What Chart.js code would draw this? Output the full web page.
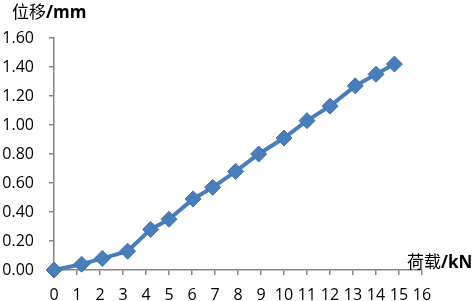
<!DOCTYPE html>
<html>
<head>
<meta charset="utf-8">
<script src="https://cdn.jsdelivr.net/npm/chart.js@4/dist/chart.umd.min.js"></script>
<style>
  html, body { margin: 0; padding: 0; background: #fff; }
  #wrap { width: 472px; height: 301px; }
</style>
</head>
<body>
<div id="wrap"><canvas id="myChart"></canvas></div>
<script>
// load (kN) vs displacement (mm)
const loads = [0, 1.2, 2.1, 3.2, 4.2, 5.0, 6.05, 6.9, 7.9, 8.9, 10.0, 11.0, 12.0, 13.1, 14.0, 14.8];
const disp = [0.00, 0.04, 0.08, 0.13, 0.28, 0.35, 0.49, 0.57, 0.68, 0.80, 0.91, 1.03, 1.13, 1.27, 1.35, 1.42];
const yTitle = ['位移', '/mm'];
const xTitle = ['荷载', '/kN'];

const BLUE = '#4A7EBB';
const AXIS = '#868686';
const FONT = "'Open Sans', 'Liberation Sans', sans-serif";
const CJK = "'Noto Sans CJK SC', sans-serif";

const points = loads.map((x, i) => ({ x: x, y: disp[i] }));

function drawTitle(ctx, parts, x, y) {
    ctx.save();
    ctx.fillStyle = '#000';
    ctx.textBaseline = 'middle';
    ctx.textAlign = 'left';
    ctx.font = '17px ' + CJK;
    ctx.fillText(parts[0], x, y);
    const w = ctx.measureText(parts[0]).width;
    ctx.font = 'bold 17px ' + FONT;
    ctx.fillText(parts[1], x + w, y + 1);
    ctx.restore();
}

const axisTitles = {
    id: 'axisTitles',
    afterDraw(chart) {
        const ctx = chart.ctx;
        const area = chart.chartArea;
        drawTitle(ctx, yTitle, 12, 12);
        drawTitle(ctx, xTitle, area.right - 15, area.bottom - 8);
    }
};

const ctx = document.getElementById('myChart').getContext('2d');

new Chart(ctx, {
    type: 'scatter',
    data: {
        datasets: [{
            data: points,
            showLine: true,
            borderColor: BLUE,
            borderWidth: 4,
            backgroundColor: BLUE,
            pointStyle: 'rectRot',
            pointRadius: 8,
            pointHoverRadius: 8,
            pointBorderColor: '#3F72B0',
            pointBorderWidth: 1,
            clip: false,
        }]
    },
    options: {
        responsive: true,
        maintainAspectRatio: false,
        animation: false,
        layout: { padding: { top: 38, right: 50, left: 0, bottom: 0 } },
        plugins: {
            legend: { display: false },
            tooltip: { enabled: false },
        },
        scales: {
            x: {
                type: 'linear',
                min: 0,
                max: 16,
                afterFit(scale) { scale.height = 31; },
                border: { color: AXIS, width: 1.5 },
                grid: { drawOnChartArea: false, drawTicks: true, tickLength: 5, color: AXIS, lineWidth: 1.5 },
                ticks: {
                    stepSize: 1,
                    padding: 11,
                    color: '#000',
                    font: { family: FONT, size: 16 },
                    maxRotation: 0,
                },
            },
            y: {
                min: 0,
                max: 1.6,
                afterFit(scale) { scale.width = 54; },
                border: { color: AXIS, width: 1.5 },
                grid: { drawOnChartArea: false, drawTicks: true, tickLength: 5, color: AXIS, lineWidth: 1.5 },
                ticks: {
                    stepSize: 0.2,
                    padding: 15,
                    color: '#000',
                    font: { family: FONT, size: 16 },
                    callback(value) {
                        return value.toFixed(2);
                    }
                },
            }
        }
    },
    plugins: [axisTitles]
});
</script>
</body>
</html>
